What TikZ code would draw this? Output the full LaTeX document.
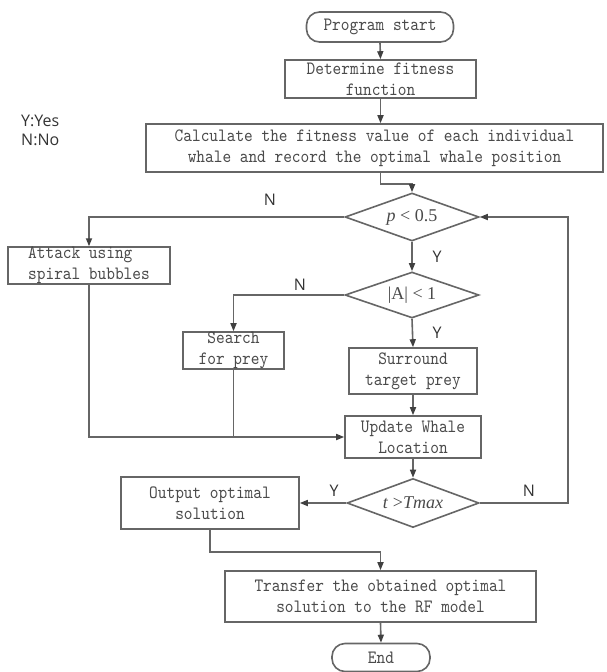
\documentclass[tikz,border=0pt]{standalone}
\usepackage{fontspec}
\setmainfont{Liberation Serif}
\newfontfamily\boxfont[FakeStretch=0.88]{lmmono10-regular.otf}
\newfontfamily\lblfont{Open Sans}
\usetikzlibrary{shapes.geometric,arrows.meta}
\definecolor{ln}{HTML}{666666}
\definecolor{tx}{HTML}{4A4A4A}
\tikzset{
  box/.style={draw=ln, line width=1.6pt, text=tx, font=\boxfont\fontsize{18.8}{21}\selectfont, align=center, inner sep=0pt},
  term/.style={box, rounded corners=13pt},
  dia/.style={draw=ln, line width=1.6pt, diamond, aspect=2.8, inner sep=0pt, text=tx, font=\fontsize{18}{20}\selectfont},
  conn/.style={draw=ln, line width=1.6pt},
  arr/.style={conn, -{Triangle[length=8pt,width=6pt,color=black!75]}},
  yn/.style={font=\lblfont\fontsize{16}{18}\selectfont, text=black!80, inner sep=0pt}
}
\begin{document}
\begin{tikzpicture}[x=1pt,y=-1pt]
\fill[white] (0,0) rectangle (606,672);
\useasboundingbox (0,0) rectangle (606,672);

\node[yn, anchor=west] (ly) at (21,121) {Y:Yes};
\node[yn, anchor=west] (lnn) at (21,140) {N:No};

\node[term, minimum width=147pt, minimum height=30pt] (start) at (380,27) {Program start};
\node[box, minimum width=191pt, minimum height=38pt] (det) at (380.5,79) {Determine fitness\\function};
\node[box, minimum width=457pt, minimum height=48pt] (calc) at (374.5,148) {Calculate the fitness value of each individual\\whale and record the optimal whale position};
\node[dia, minimum width=134pt, minimum height=48pt] (d1) at (412,217) {\textit{p} < 0.5};
\node[box, align=left, minimum width=162pt, minimum height=35pt] (atk) at (89,265.5) {Attack using\\spiral bubbles};
\node[dia, minimum width=134pt, minimum height=46pt] (d2) at (412,295) {|A| < 1};
\node[box, minimum width=101pt, minimum height=35pt] (srch) at (233.5,350.5) {Search\\for prey};
\node[box, minimum width=128pt, minimum height=46pt] (sur) at (413,371) {Surround\\target prey};
\node[box, minimum width=136pt, minimum height=42pt] (upd) at (413,437) {Update Whale\\Location};
\node[dia, minimum width=132pt, minimum height=49pt] (d3) at (413,503) {\textit{t} >\textit{Tmax}};
\node[box, minimum width=178pt, minimum height=52pt] (out) at (210,503) {Output optimal\\solution};
\node[box, minimum width=311pt, minimum height=51pt] (tr) at (380.5,596.5) {Transfer the obtained optimal\\solution to the RF model};
\node[term, minimum width=98pt, minimum height=28pt] (end) at (381,657.5) {End};

\coordinate (loop) at (568,503);

\draw[arr] (start.south) -- (det.north);
\draw[arr] (det.south) -- (det.south |- calc.north);
\draw[arr] (det.south |- calc.south) -- ++(0,11) -| (d1.north);
\draw[arr] (d1.west) -| (atk.north);
\draw[arr] (d1.south) -- (d2.north);
\draw[arr] (d2.west) -| (srch.north);
\draw[arr] (d2.south) -- (sur.north);
\draw[arr] (sur.south) -- (upd.north);
\draw[arr] (atk.south) |- (upd.west);
\draw[conn] (srch.south) -- (srch.south |- upd.west);
\draw[arr] (upd.south) -- (d3.north);
\draw[arr] (d3.west) -- (out.east);
\draw[arr] (d3.east) -- (loop) |- (d1.east);
\draw[arr] (out.south) -- ++(0,22) -| (tr.north);
\draw[arr] (tr.south) -- (end.north);

\node[yn] (n1) at (270,200) {N};
\node[yn] (y1) at (437,257) {Y};
\node[yn] (n2) at (300,285) {N};
\node[yn] (y2) at (437,333) {Y};
\node[yn] (y3) at (334,491) {Y};
\node[yn] (n3) at (529,491) {N};
\end{tikzpicture}
\end{document}
